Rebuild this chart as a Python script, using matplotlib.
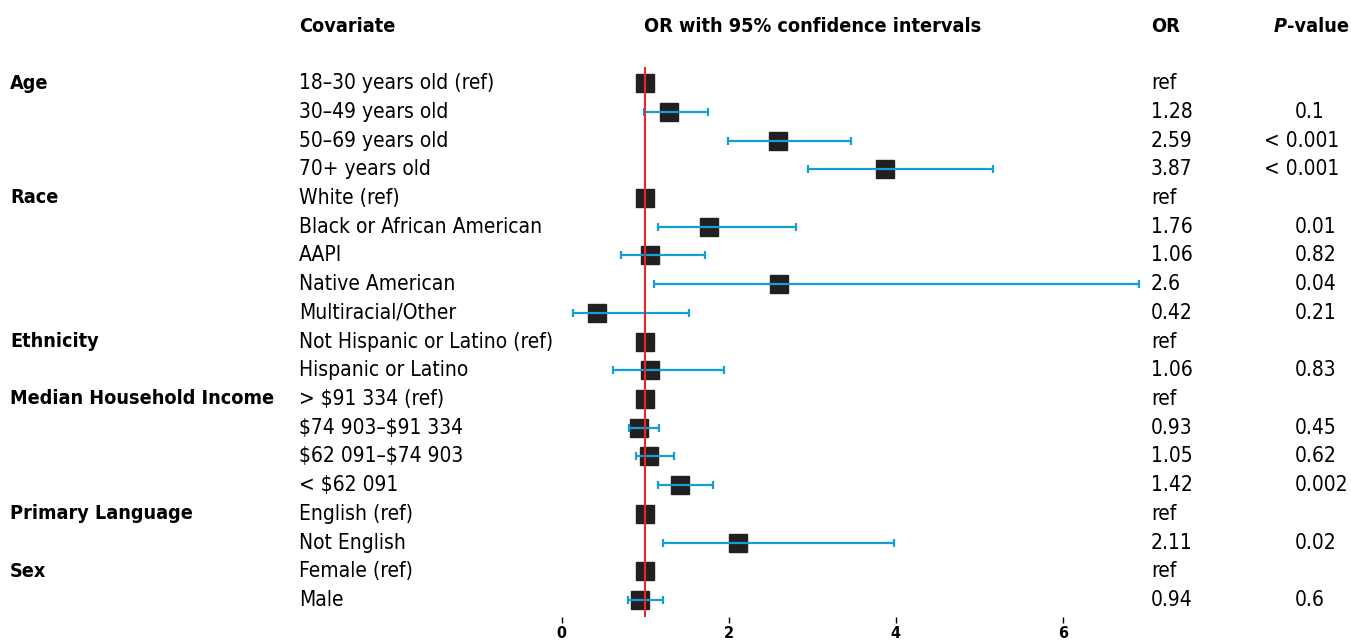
import matplotlib
matplotlib.use("Agg")
import matplotlib.pyplot as plt
from matplotlib import font_manager as fm
from matplotlib.transforms import blended_transform_factory
import numpy as np

# ---- data ----
groups = ["Age", "Race", "Ethnicity", "Median Household Income",
          "Primary Language", "Sex"]
group_rows = [0, 4, 9, 11, 15, 17]

labels = ["18\u201330 years old (ref)", "30\u201349 years old", "50\u201369 years old",
          "70+ years old",
          "White (ref)", "Black or African American", "AAPI", "Native American",
          "Multiracial/Other",
          "Not Hispanic or Latino (ref)", "Hispanic or Latino",
          "> $91 334 (ref)", "$74 903\u2013$91 334",
          "$62 091\u2013$74 903", "< $62 091",
          "English (ref)", "Not English",
          "Female (ref)", "Male"]

odds = [1, 1.28, 2.59, 3.87,
        1, 1.76, 1.06, 2.6, 0.42,
        1, 1.06,
        1, 0.93, 1.05, 1.42,
        1, 2.11,
        1, 0.94]
ci_low = [None, 0.99, 1.99, 2.95,
          None, 1.15, 0.71, 1.10, 0.13,
          None, 0.62,
          None, 0.80, 0.89, 1.15,
          None, 1.21,
          None, 0.79]
ci_high = [None, 1.75, 3.47, 5.17,
           None, 2.80, 1.72, 6.91, 1.52,
           None, 1.94,
           None, 1.16, 1.34, 1.81,
           None, 3.98,
           None, 1.21]
or_text = ["ref", "1.28", "2.59", "3.87",
           "ref", "1.76", "1.06", "2.6", "0.42",
           "ref", "1.06",
           "ref", "0.93", "1.05", "1.42",
           "ref", "2.11",
           "ref", "0.94"]
p_text = ["", "0.1", "< 0.001", "< 0.001",
          "", "0.01", "0.82", "0.04", "0.21",
          "", "0.83",
          "", "0.45", "0.62", "0.002",
          "", "0.02",
          "", "0.6"]
xticks = [0, 2, 4, 6]

# look for a narrow font, the reference uses a condensed face
narrow = None
for f in fm.fontManager.ttflist:
    if "Narrow" in f.name or "Condensed" in f.name or f.stretch == "condensed":
        narrow = (f.name, f.stretch)
        if "Liberation" in f.name or "DejaVu" in f.name:
            break

if narrow:
    plt.rcParams["font.family"] = [narrow[0], "DejaVu Sans"]
    plt.rcParams["font.stretch"] = narrow[1]
    fs, fsb = 15, 14.2
else:
    plt.rcParams["font.family"] = ["DejaVu Sans"]
    fs, fsb = 13, 12

W, H = 1351, 643
fig = plt.figure(figsize=(W / 100, H / 100), dpi=100)

# forest plot axes: x=0 at 562px, 83.5px per unit; rows 67px..617px
ax = fig.add_axes([561.7 / W, 1 - 616.7 / H, 7 * 83.5 / W, 550 / H])
ax.set_xlim(0, 7)
ax.set_ylim(18.58, -0.57)
for s in ax.spines.values():
    s.set_visible(False)
ax.set_yticks([])
ax.set_xticks(xticks)
ax.set_xticklabels([str(t) for t in xticks], fontweight="bold", fontsize=11.5)
ax.tick_params(axis="x", length=4.5, width=1, color="black", pad=2)

rows = np.arange(len(labels))
ax.plot(odds, rows, "s", color="#231f20", markersize=12.5, zorder=2)
for i in rows:
    if ci_low[i] is not None:
        ax.errorbar(odds[i], i, xerr=[[odds[i] - ci_low[i]], [ci_high[i] - odds[i]]],
                    fmt="none", ecolor="#129fd9", elinewidth=1.6,
                    capsize=3, capthick=1.6, zorder=3)
ax.axvline(1, color="#e8262d", lw=1.5, zorder=4)

# text columns
tr = blended_transform_factory(fig.transFigure, ax.transData)
kw = dict(transform=tr, va="center", parse_math=False)
for g, r in zip(groups, group_rows):
    fig.text(10 / W, r, g, fontsize=fsb, fontweight="bold", **kw)
for i in rows:
    fig.text(299 / W, i, labels[i], fontsize=fs, **kw)
    fig.text(1151 / W, i, or_text[i], fontsize=fs, **kw)
    if p_text[i].startswith("<"):
        fig.text(1339 / W, i, p_text[i], ha="right", fontsize=fs, **kw)
    else:
        fig.text(1295 / W, i, p_text[i], fontsize=fs, **kw)

# headers
hy = 1 - 27 / H
hkw = dict(fontsize=fsb, fontweight="bold", va="center")
fig.text(299 / W, hy, "Covariate", **hkw)
fig.text(813 / W, hy, "OR with 95% confidence intervals", ha="center", **hkw)
fig.text(1151 / W, hy, "OR", **hkw)
tv = fig.text(1349 / W, hy, "-value", ha="right", **hkw)
fig.canvas.draw()
x0 = tv.get_window_extent().x0
fig.text(x0 / W, hy, "P", ha="right", fontstyle="italic", **hkw)

fig.savefig("out.png", dpi=100)
